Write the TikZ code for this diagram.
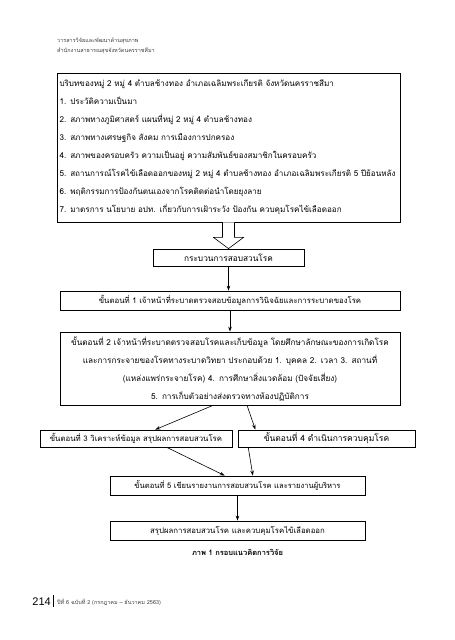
\documentclass[tikz,border=0pt]{standalone}
\usepackage{fontspec}
\newfontfamily\thai[Script=Thai]{Loma}
\usetikzlibrary{calc,arrows.meta}
\newcommand{\tsz}[1]{\thai\fontsize{#1}{18}\selectfont}
\begin{document}
\begin{tikzpicture}[x=1pt,y=-1pt,
  box/.style={draw, line width=0.8pt, inner sep=2pt, font=\tsz{7.5}},
  arr/.style={-{Stealth[length=5pt,width=3.5pt]}, line width=0.6pt},
  hollow/.style={draw, line width=0.6pt, fill=white},
  small/.style={font=\thai\fontsize{5.5}{7}\selectfont, text=black!75, inner sep=0pt}]
\useasboundingbox (0,0) rectangle (455,640);
\fill[white] (0,0) rectangle (455,640);
% header
\node[small, anchor=west] (h1) at (57,41) {วารสารวิจัยและพัฒนาด้านสุขภาพ};
\node[small, anchor=west] (h2) at (57,51) {สำนักงานสาธารณสุขจังหวัดนครราชสีมา};
% top box
\node[box, font=\tsz{8.1}, minimum width=343, minimum height=149, text width=338, align=left] (top) at (228.5,147.5)
 {บริบทของหมู่ 2 หมู่ 4 ตำบลช้างทอง อำเภอเฉลิมพระเกียรติ จังหวัดนครราชสีมา\\
  1. ประวัติความเป็นมา\\
  2. สภาพทางภูมิศาสตร์ แผนที่หมู่ 2 หมู่ 4 ตำบลช้างทอง\\
  3. สภาพทางเศรษฐกิจ สังคม การเมืองการปกครอง\\
  4. สภาพของครอบครัว ความเป็นอยู่ ความสัมพันธ์ของสมาชิกในครอบครัว\\
  5. สถานการณ์โรคไข้เลือดออกของหมู่ 2 หมู่ 4 ตำบลช้างทอง อำเภอเฉลิมพระเกียรติ 5 ปีย้อนหลัง\\
  6. พฤติกรรมการป้องกันตนเองจากโรคติดต่อนำโดยยุงลาย\\
  7. มาตรการ นโยบาย อปท. เกี่ยวกับการเฝ้าระวัง ป้องกัน ควบคุมโรคไข้เลือดออก};
% process box
\node[box, font=\tsz{8.3}, minimum width=151, minimum height=17] (proc) at (228.5,257.5) {กระบวนการสอบสวนโรค};
\node[box, font=\tsz{7.8}, minimum width=340, minimum height=19] (s1) at (230,300.5) {ขั้นตอนที่ 1 เจ้าหน้าที่ระบาดตรวจสอบข้อมูลการวินิจฉัยและการระบาดของโรค};
\node[box, font=\tsz{8.2}, minimum width=340, minimum height=73, text width=334, align=center] (s2) at (230,368.5)
 {ขั้นตอนที่ 2 เจ้าหน้าที่ระบาดตรวจสอบโรคและเก็บข้อมูล โดยศึกษาลักษณะของการเกิดโรค\\
  และการกระจายของโรคทางระบาดวิทยา ประกอบด้วย 1. บุคคล 2. เวลา 3. สถานที่\\
  (แหล่งแพร่กระจายโรค) 4. การศึกษาสิ่งแวดล้อม (ปัจจัยเสี่ยง)\\
  5. การเก็บตัวอย่างส่งตรวจทางห้องปฏิบัติการ};
\node[box, font=\tsz{7.8}, minimum width=192, minimum height=17] (s3) at (136,438.5) {ขั้นตอนที่ 3 วิเคราะห์ข้อมูล สรุปผลการสอบสวนโรค};
\node[box, font=\tsz{8.5}, minimum width=177, minimum height=17] (s4) at (326.5,438.5) {ขั้นตอนที่ 4 ดำเนินการควบคุมโรค};
\node[box, font=\tsz{7.6}, minimum width=255, minimum height=19] (s5) at (237.5,485.5) {ขั้นตอนที่ 5 เขียนรายงานการสอบสวนโรค และรายงานผู้บริหาร};
\node[box, font=\tsz{7.8}, minimum width=255, minimum height=19] (fin) at (237.5,530.5) {สรุปผลการสอบสวนโรค และควบคุมโรคไข้เลือดออก};
\node[font=\thai\bfseries\fontsize{7.5}{9}\selectfont, inner sep=0pt] (cap) at (237.5,552) {ภาพ 1 กรอบแนวคิดการวิจัย};
% hollow arrow
\draw[hollow] ($(top.south)+(-6,0)$) -- ($(top.south)+(-6,15)$) -- ($(top.south)+(-15,15)$) -- (proc.north)
  -- ($(top.south)+(15,15)$) -- ($(top.south)+(6,15)$) -- ($(top.south)+(6,0)$);
% arrows
\draw[arr] (proc.south) -- (proc.south |- s1.north);
\draw[arr] (s1.south) -- (s1.south |- s2.north);
\draw[arr] ($(s2.south west)!0.45!(s2.south east)$) -- ($(s3.north west)!0.6!(s3.north east)$);
\draw[arr] ($(s2.south west)!0.55!(s2.south east)$) -- ($(s4.north west)!0.1!(s4.north east)$);
\draw[arr] ($(s3.south west)!0.66!(s3.south east)$) -- ($(s5.north west)!0.45!(s5.north east)$);
\draw[arr] ($(s4.south west)!0.06!(s4.south east)$) -- ($(s5.north west)!0.56!(s5.north east)$);
\draw[arr] (s5.south) -- (fin.north);
% footer
\node[font=\fontspec{Liberation Sans}\fontsize{11}{12}\selectfont, anchor=east, inner sep=0pt] (pg) at (51,602) {214};
\node[anchor=west, inner sep=0pt, fill=black, minimum width=1.2pt, minimum height=12pt] (bar) at (53,601) {};
\node[small, anchor=west, font=\thai\fontsize{5.5}{7}\selectfont] (ft) at (57,602) {ปีที่ 6 ฉบับที่ 2 (กรกฎาคม – ธันวาคม 2563)};
\end{tikzpicture}
\end{document}
